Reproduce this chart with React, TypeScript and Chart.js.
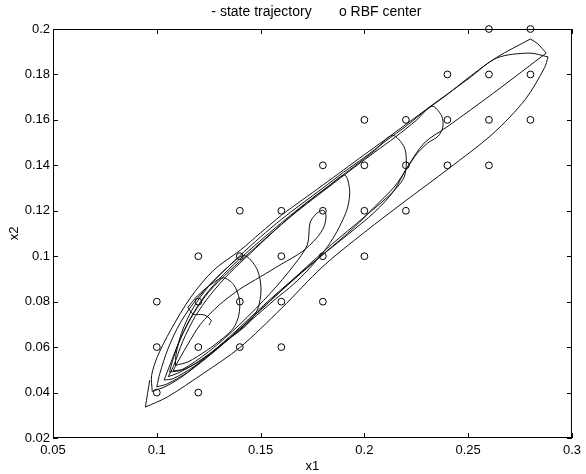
import React, { useEffect, useRef } from "react";
import { Chart, registerables } from "chart.js";

Chart.register(...registerables);

// RBF centers
const rbfX = [
  0.26, 0.28,
  0.24, 0.26, 0.28,
  0.2, 0.22, 0.24, 0.26, 0.28,
  0.18, 0.2, 0.22, 0.24, 0.26,
  0.14, 0.16, 0.18, 0.2, 0.22,
  0.12, 0.14, 0.16, 0.18, 0.2,
  0.1, 0.12, 0.14, 0.16, 0.18,
  0.1, 0.12, 0.14, 0.16,
  0.1, 0.12,
];
const rbfY = [
  0.2, 0.2,
  0.18, 0.18, 0.18,
  0.16, 0.16, 0.16, 0.16, 0.16,
  0.14, 0.14, 0.14, 0.14, 0.14,
  0.12, 0.12, 0.12, 0.12, 0.12,
  0.1, 0.1, 0.1, 0.1, 0.1,
  0.08, 0.08, 0.08, 0.08, 0.08,
  0.06, 0.06, 0.06, 0.06,
  0.04, 0.04,
];

// State trajectory, split at its sharp corners.
// Each piece starts at the corner where the previous one ends.
const trajSegX: number[][] = [
  [0.0966, 0.0945],
  [0.0945, 0.105, 0.1227, 0.14, 0.16, 0.18, 0.2, 0.22, 0.2405, 0.262, 0.2775, 0.2868, 0.2885],
  [0.2885, 0.2795, 0.2637, 0.25, 0.24, 0.2326, 0.22, 0.21, 0.2, 0.19, 0.18, 0.17, 0.16, 0.15, 0.1403, 0.1274, 0.1164, 0.1067, 0.1003, 0.0975, 0.0978],
  [0.0978, 0.1045, 0.113, 0.123, 0.135, 0.148, 0.162, 0.177, 0.192, 0.205, 0.214, 0.2207, 0.2288, 0.2398, 0.2622, 0.2876],
  [0.2876, 0.2835, 0.28],
  [0.28, 0.2637, 0.25, 0.24, 0.23, 0.22, 0.21, 0.2, 0.19, 0.18, 0.17, 0.16, 0.15, 0.14, 0.13, 0.12, 0.1115, 0.1055, 0.1015, 0.1],
  [0.1, 0.105, 0.115, 0.127, 0.14, 0.153, 0.167, 0.181, 0.1953, 0.2049, 0.2144, 0.2207, 0.2254, 0.2305, 0.2355, 0.2378, 0.2372, 0.2326,
    0.225, 0.215, 0.205, 0.195, 0.185, 0.175, 0.165, 0.155, 0.145, 0.135, 0.125, 0.118, 0.1115, 0.1065, 0.1035],
  [0.1035, 0.108, 0.118, 0.13, 0.143, 0.156, 0.17, 0.184, 0.2, 0.2111, 0.2159, 0.2192, 0.2202, 0.2192, 0.2135,
    0.205, 0.195, 0.185, 0.175, 0.165, 0.155, 0.145, 0.135, 0.126, 0.1185, 0.1125, 0.108, 0.1055],
  [0.1055, 0.11, 0.12, 0.132, 0.145, 0.157, 0.166, 0.1728, 0.181, 0.1858, 0.1896, 0.192, 0.1929, 0.1905,
    0.182, 0.172, 0.162, 0.152, 0.142, 0.132, 0.123, 0.1155, 0.11, 0.1068, 0.1062],
  [0.1062, 0.112, 0.125, 0.14, 0.155, 0.166, 0.1725, 0.1738, 0.1762, 0.18, 0.1815, 0.1805, 0.177,
    0.17, 0.16, 0.15, 0.14, 0.13, 0.121, 0.1145, 0.1095, 0.1078],
  [0.1078, 0.114, 0.123, 0.133, 0.143, 0.1485, 0.1502, 0.1482, 0.142, 0.134, 0.125, 0.1175, 0.112, 0.1092, 0.109],
  [0.109, 0.115, 0.124, 0.132, 0.137, 0.1395, 0.1398, 0.137, 0.132, 0.126, 0.1195, 0.115],
  [0.115, 0.1175, 0.1227, 0.1262, 0.1251],
];
const trajSegY: number[][] = [
  [0.0455, 0.0336],
  [0.0336, 0.038, 0.0486, 0.0598, 0.077, 0.0955, 0.1105, 0.1245, 0.1385, 0.154, 0.169, 0.183, 0.1877],
  [0.1877, 0.1894, 0.1872, 0.178, 0.1714, 0.1665, 0.158, 0.1513, 0.1447, 0.138, 0.1313, 0.1247, 0.118, 0.1103, 0.1027, 0.0939, 0.082, 0.0675, 0.0558, 0.0475, 0.0405],
  [0.0405, 0.0428, 0.0475, 0.055, 0.0645, 0.0755, 0.087, 0.0985, 0.1095, 0.1195, 0.1285, 0.1392, 0.1498, 0.1569, 0.1718, 0.1894],
  [0.1894, 0.1935, 0.1956],
  [0.1956, 0.1875, 0.1785, 0.1712, 0.1645, 0.1572, 0.1505, 0.1435, 0.137, 0.13, 0.1232, 0.1162, 0.1085, 0.1002, 0.0915, 0.082, 0.071, 0.0595, 0.0485, 0.0425],
  [0.0425, 0.0438, 0.049, 0.0575, 0.068, 0.079, 0.0905, 0.1015, 0.1129, 0.1217, 0.1305, 0.139, 0.1452, 0.1498, 0.1528, 0.1568, 0.1618, 0.166,
    0.1598, 0.1525, 0.1458, 0.139, 0.132, 0.125, 0.1178, 0.11, 0.1018, 0.0935, 0.0842, 0.0752, 0.064, 0.0525, 0.0455],
  [0.0455, 0.0462, 0.0515, 0.06, 0.0705, 0.0815, 0.0935, 0.105, 0.1173, 0.126, 0.1305, 0.1349, 0.141, 0.148, 0.1532,
    0.1465, 0.1395, 0.1325, 0.1255, 0.118, 0.1098, 0.1012, 0.0925, 0.0832, 0.0735, 0.0625, 0.0515, 0.047],
  [0.047, 0.0485, 0.0535, 0.0615, 0.0715, 0.081, 0.0878, 0.0939, 0.1027, 0.1093, 0.116, 0.1217, 0.1291, 0.1357,
    0.1302, 0.1235, 0.1162, 0.1085, 0.1005, 0.0918, 0.0825, 0.0715, 0.0605, 0.0515, 0.049],
  [0.049, 0.05, 0.058, 0.07, 0.084, 0.096, 0.105, 0.1146, 0.1181, 0.1203, 0.1181, 0.1129, 0.108,
    0.102, 0.0965, 0.091, 0.0855, 0.0785, 0.07, 0.0605, 0.0525, 0.0495],
  [0.0495, 0.0505, 0.0555, 0.0625, 0.0695, 0.0765, 0.0855, 0.0945, 0.1003, 0.095, 0.0868, 0.0772, 0.0665, 0.0565, 0.052],
  [0.052, 0.0535, 0.0585, 0.064, 0.0685, 0.074, 0.081, 0.0875, 0.0905, 0.0875, 0.0825, 0.0775],
  [0.0775, 0.0745, 0.0742, 0.0718, 0.0697],
];

const xTicks = [0.05, 0.1, 0.15, 0.2, 0.25, 0.3];
const yTicks = [0.02, 0.04, 0.06, 0.08, 0.1, 0.12, 0.14, 0.16, 0.18, 0.2];
const legendText = "  - state trajectory       o RBF center";
const xTitle = "x1";
const yTitle = "x2";

const FONT = "'Liberation Sans', Arial, Helvetica, sans-serif";

const framePlugin = {
  id: "frameTicks",
  beforeDatasetsDraw(chart: any) {
    const { ctx, chartArea, scales } = chart;
    const { left, right, top, bottom } = chartArea;
    ctx.save();
    ctx.strokeStyle = "#000";
    ctx.lineWidth = 1;
    ctx.strokeRect(left + 0.5, top + 0.5, right - left - 1, bottom - top - 1);
    const len = 5;
    ctx.beginPath();
    for (const v of xTicks) {
      const px = Math.round(scales.x.getPixelForValue(v)) + 0.5;
      ctx.moveTo(px, bottom);
      ctx.lineTo(px, bottom - len);
      ctx.moveTo(px, top);
      ctx.lineTo(px, top + len);
    }
    for (const v of yTicks) {
      const py = Math.round(scales.y.getPixelForValue(v)) + 0.5;
      ctx.moveTo(left, py);
      ctx.lineTo(left + len, py);
      ctx.moveTo(right, py);
      ctx.lineTo(right - len, py);
    }
    ctx.stroke();
    ctx.restore();
  },
};

const fmt = (v: number) => String(Math.round(v * 100) / 100);

export default function App() {
  const ref = useRef<HTMLCanvasElement | null>(null);

  useEffect(() => {
    document.body.style.margin = "0";
    const canvas = ref.current;
    if (!canvas) return;
    const trajSets = trajSegX.map((xs, s) => ({
      label: "state trajectory",
      data: xs.map((x, i) => ({ x, y: trajSegY[s][i] })),
      showLine: true,
      pointRadius: 0,
      borderColor: "#111",
      borderWidth: 1,
      tension: 0.3,
    }));
    const rbf = rbfX.map((x, i) => ({ x, y: rbfY[i] }));
    const chart = new Chart(canvas, {
      type: "scatter",
      data: {
        datasets: [
          ...trajSets,
          {
            label: "RBF center",
            data: rbf,
            pointStyle: "circle",
            pointRadius: 3.4,
            borderColor: "#000",
            borderWidth: 1,
            backgroundColor: "rgba(255,255,255,0)",
            clip: false,
          } as any,
        ],
      },
      options: {
        responsive: false,
        animation: false,
        devicePixelRatio: 1,
        layout: { padding: { left: 0, right: 10, top: 0, bottom: 0 } },
        plugins: {
          legend: { display: false },
          tooltip: { enabled: false },
          title: {
            display: true,
            text: legendText,
            fullSize: false,
            color: "#000",
            font: { family: FONT, size: 14, weight: "normal" },
            padding: { top: 4, bottom: 8.2 },
          },
        },
        scales: {
          x: {
            type: "linear",
            min: 0.05,
            max: 0.3,
            afterBuildTicks: (s: any) => {
              s.ticks = xTicks.map((v) => ({ value: v }));
            },
            afterFit: (s: any) => {
              s.height = 36;
            },
            grid: { display: false, drawTicks: false },
            border: { display: false },
            ticks: {
              color: "#000",
              font: { family: FONT, size: 13 },
              padding: 5,
              maxRotation: 0,
              autoSkip: false,
              callback: (v: any) => fmt(Number(v)),
            },
            title: {
              display: true,
              text: xTitle,
              color: "#000",
              font: { family: FONT, size: 13 },
              padding: { top: 0, bottom: 0 },
            },
          },
          y: {
            type: "linear",
            min: 0.02,
            max: 0.2,
            afterBuildTicks: (s: any) => {
              s.ticks = yTicks.map((v) => ({ value: v }));
            },
            afterFit: (s: any) => {
              s.width = 53;
            },
            grid: { display: false, drawTicks: false },
            border: { display: false },
            ticks: {
              color: "#000",
              font: { family: FONT, size: 13 },
              padding: 3,
              autoSkip: false,
              callback: (v: any) => fmt(Number(v)),
            },
            title: {
              display: true,
              text: yTitle,
              color: "#000",
              font: { family: FONT, size: 13 },
              padding: { top: 7, bottom: 0 },
            },
          },
        },
      },
      plugins: [framePlugin],
    });
    return () => chart.destroy();
  }, []);

  return (
    <div style={{ width: 586, height: 474, background: "#fff" }}>
      <canvas ref={ref} width={586} height={474} />
    </div>
  );
}
